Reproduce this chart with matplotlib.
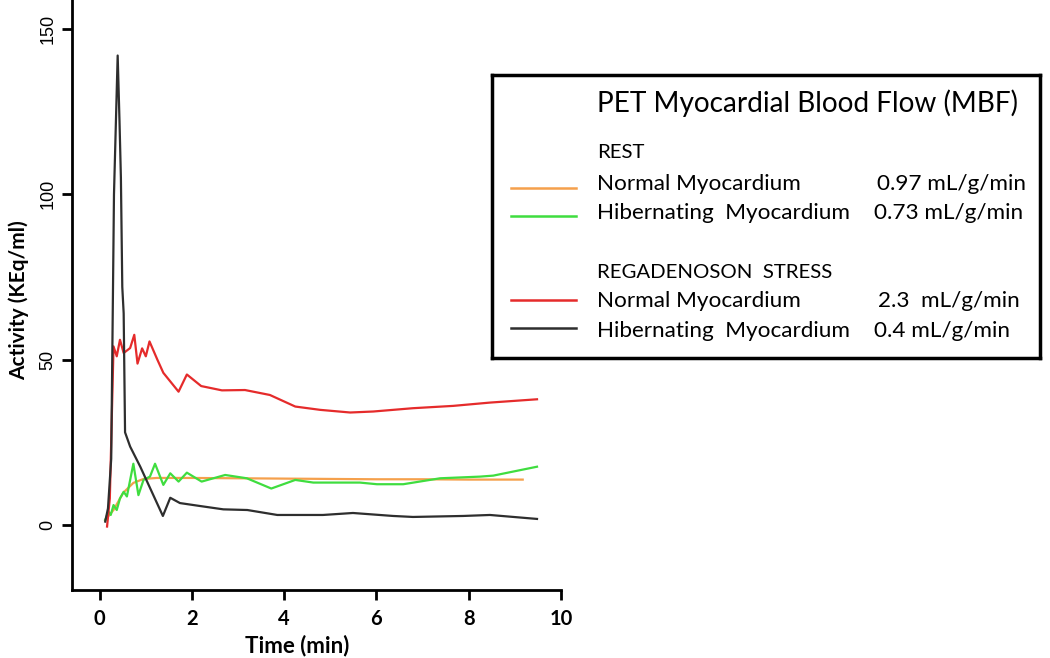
import matplotlib
matplotlib.use("Agg")
import matplotlib.pyplot as plt

# ---- data (time in min, activity in KEq/ml) ----
rest_normal_t = [0.12, 0.30, 0.51, 0.73, 0.95, 1.24, 2.0, 3.0, 4.0, 5.0, 6.0, 7.0, 8.0, 9.17]
rest_normal_v = [1.5, 4.5, 9.7, 12.7, 13.9, 14.2, 14.2, 14.1, 14.0, 13.9, 13.8, 13.8, 13.7, 13.7]

rest_hib_t = [0.12, 0.19, 0.24, 0.30, 0.37, 0.44, 0.52, 0.59, 0.73, 0.84, 0.95, 1.09, 1.20,
              1.38, 1.53, 1.71, 1.89, 2.21, 2.72, 3.19, 3.72, 4.24, 4.63, 5.64, 6.01, 6.58,
              7.38, 8.24, 8.53, 9.48]
rest_hib_v = [1.5, 4.0, 3.0, 6.0, 4.5, 8.0, 10.0, 8.6, 18.5, 9.0, 13.6, 14.6, 18.5,
              12.1, 15.6, 13.1, 15.8, 13.1, 15.1, 14.1, 11.0, 13.6, 12.8, 12.8, 12.3, 12.3,
              14.1, 14.6, 14.9, 17.6]

stress_normal_t = [0.16, 0.22, 0.30, 0.37, 0.44, 0.52, 0.66, 0.75, 0.82, 0.92, 1.00, 1.08,
                   1.25, 1.38, 1.71, 1.89, 2.20, 2.65, 3.15, 3.69, 4.24, 4.78, 5.43, 5.93,
                   6.79, 7.66, 8.46, 9.48]
stress_normal_v = [-0.5, 8.0, 54.0, 51.0, 56.0, 52.0, 53.5, 57.5, 48.8, 53.4, 51.0, 55.5,
                   50.0, 46.0, 40.3, 45.5, 42.0, 40.7, 40.8, 39.3, 35.8, 34.8, 34.0, 34.3,
                   35.3, 36.0, 37.0, 38.0]

stress_hib_t = [0.12, 0.18, 0.25, 0.31, 0.39, 0.43, 0.46, 0.49, 0.52, 0.55, 0.66, 0.88,
                1.37, 1.53, 1.74, 2.18, 2.68, 3.20, 3.85, 4.84, 5.49, 6.36, 6.79, 7.88,
                8.46, 9.48]
stress_hib_v = [1.0, 5.0, 20.0, 100.0, 142.0, 122.0, 105.0, 72.0, 64.0, 28.0, 23.7, 17.6,
                2.7, 8.2, 6.6, 5.7, 4.7, 4.5, 3.0, 3.0, 3.6, 2.7, 2.4, 2.7, 3.0, 1.8]

x_ticks = [0, 2, 4, 6, 8, 10]
y_ticks = [0, 50, 100, 150]

C_ORANGE = "#F5A04C"
C_GREEN = "#3FDD3F"
C_RED = "#E52B2B"
C_BLACK = "#2E2E2E"

W, H = 1050, 658
fig = plt.figure(figsize=(W / 100, H / 100), dpi=100)
fig.patch.set_facecolor("white")

ax = fig.add_axes([72 / W, 1 - 590 / H, (561 - 72) / W, 590 / H])
ax.plot(rest_normal_t, rest_normal_v, color=C_ORANGE, lw=1.6)
ax.plot(rest_hib_t, rest_hib_v, color=C_GREEN, lw=1.6)
ax.plot(stress_normal_t, stress_normal_v, color=C_RED, lw=1.6)
ax.plot(stress_hib_t, stress_hib_v, color=C_BLACK, lw=1.6)

ax.set_xlim(-0.6, 10)
ax.set_ylim(-19.7, 158.8)
for s in ["top", "right"]:
    ax.spines[s].set_visible(False)
for s in ["left", "bottom"]:
    ax.spines[s].set_linewidth(2.0)
ax.set_xticks(x_ticks)
ax.set_yticks(y_ticks)
ax.set_xticklabels([str(v) for v in x_ticks], fontsize=14.5, fontweight="bold", family="Lato")
ax.set_yticklabels([str(v) for v in y_ticks], fontsize=13, rotation=90, va="center",
                   family="Liberation Sans")
ax.tick_params(axis="both", direction="out", length=7, width=2.0)
ax.tick_params(axis="x", pad=7)
ax.tick_params(axis="y", pad=4)
ax.set_xlabel("Time (min)", fontsize=16, fontweight="bold", family="Lato", labelpad=4)
ax.xaxis.set_label_coords((297 - 72) / (561 - 72), -0.075)
ax.set_ylabel("Activity (KEq/ml)", fontsize=15, fontweight="bold", family="Lato")
ax.yaxis.set_label_coords(-(72 - 29) / (561 - 72), (590 - 300) / 590)

# ---- legend box (pixel coordinates) ----
lx0, ly0, lx1, ly1 = 492, 75, 1040, 358
lg = fig.add_axes([lx0 / W, 1 - ly1 / H, (lx1 - lx0) / W, (ly1 - ly0) / H])
lg.set_xlim(lx0, lx1)
lg.set_ylim(ly1, ly0)
lg.set_xticks([])
lg.set_yticks([])
for s in lg.spines.values():
    s.set_linewidth(2.5)

tf = "Lato"
lg.text(597, 103, "PET Myocardial Blood Flow (MBF)", fontsize=20.2, family=tf, va="center")
lg.text(597, 152, "REST", fontsize=14.7, family=tf, va="center")
lg.text(597, 184, "Normal Myocardium", fontsize=16.2, family=tf, va="center")
lg.text(597, 213, "Hibernating  Myocardium", fontsize=16.2, family=tf, va="center")
lg.text(597, 272, "REGADENOSON  STRESS", fontsize=14.7, family=tf, va="center")
lg.text(597, 301, "Normal Myocardium", fontsize=16.2, family=tf, va="center")
lg.text(597, 331, "Hibernating  Myocardium", fontsize=16.2, family=tf, va="center")
lg.text(877, 184, "0.97 mL/g/min", fontsize=16.2, family=tf, va="center")
lg.text(874, 213, "0.73 mL/g/min", fontsize=16.2, family=tf, va="center")
lg.text(878, 301, "2.3  mL/g/min", fontsize=16.2, family=tf, va="center")
lg.text(874, 331, "0.4 mL/g/min", fontsize=16.2, family=tf, va="center")
for yy, c in [(188, C_ORANGE), (216, C_GREEN), (300, C_RED), (328, C_BLACK)]:
    lg.plot([511, 576], [yy, yy], color=c, lw=1.8)

fig.savefig("out.png", dpi=100)
